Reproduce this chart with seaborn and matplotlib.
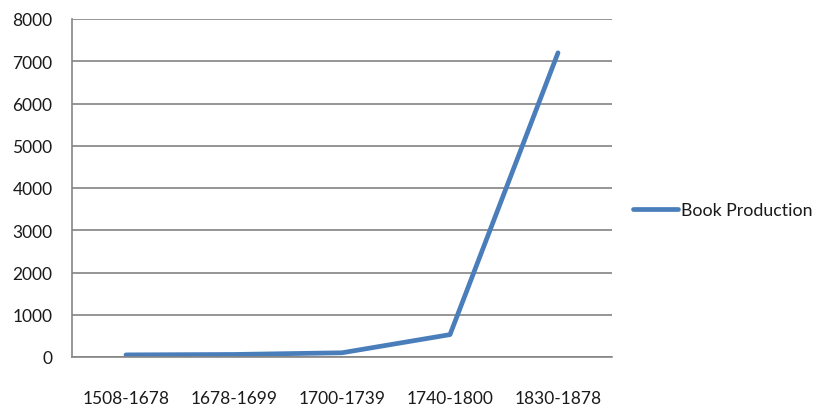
import matplotlib
matplotlib.use("Agg")
import matplotlib.pyplot as plt
from matplotlib.ticker import FixedLocator, NullFormatter
import seaborn as sns
import pandas as pd

periods = ["1508-1678", "1678-1699", "1700-1739", "1740-1800", "1830-1878"]
books = [50, 60, 100, 530, 7200]
series_name = "Book Production"
y_ticks = [0, 1000, 2000, 3000, 4000, 5000, 6000, 7000, 8000]

sns.set_style("white")
plt.rcParams["font.family"] = ["Lato", "DejaVu Sans"]

df = pd.DataFrame({"period": periods, "books": books, "series": series_name})

fig = plt.figure(figsize=(8.19, 4.10), dpi=100)
ax = fig.add_axes([72 / 819, 52 / 410, 540 / 819, 338 / 410])

sns.lineplot(data=df, x="period", y="books", hue="series", sort=False,
             palette=["#4A7EBB"], linewidth=3.4, ax=ax, legend=True)

ax.set_xlim(-0.5, len(periods) - 0.5)
ax.set_ylim(0, 8000)
ax.set_yticks(y_ticks)
ax.set_yticklabels([str(v) for v in y_ticks])
ax.set_xlabel("")
ax.set_ylabel("")

# category boundaries carry the x tick marks
ax.xaxis.set_minor_locator(FixedLocator([i - 0.5 for i in range(len(periods) + 1)]))
ax.xaxis.set_minor_formatter(NullFormatter())
ax.tick_params(axis="x", which="major", length=0, pad=24, labelsize=12.5, colors="#1a1a1a")
ax.tick_params(axis="x", which="minor", length=6, width=1.2, color="#868686", direction="out")
ax.tick_params(axis="y", which="major", length=6, width=1.2, color="#868686",
               direction="out", pad=8, labelsize=12.5, labelcolor="#1a1a1a")

ax.grid(axis="y", color="#8c8c8c", linewidth=1.3)
ax.set_axisbelow(True)
for side in ("top", "right"):
    ax.spines[side].set_visible(False)
for side in ("left", "bottom"):
    ax.spines[side].set_color("#868686")
    ax.spines[side].set_linewidth(1.2)

leg = ax.legend(loc="center left", bbox_to_anchor=(1.039, 0.435), frameon=False,
                borderpad=0, borderaxespad=0,
                handlelength=2.55, handletextpad=0.12, fontsize=12.8, title=None)
for t in leg.get_texts():
    t.set_color("#1a1a1a")

fig.savefig("out.png", dpi=100)
